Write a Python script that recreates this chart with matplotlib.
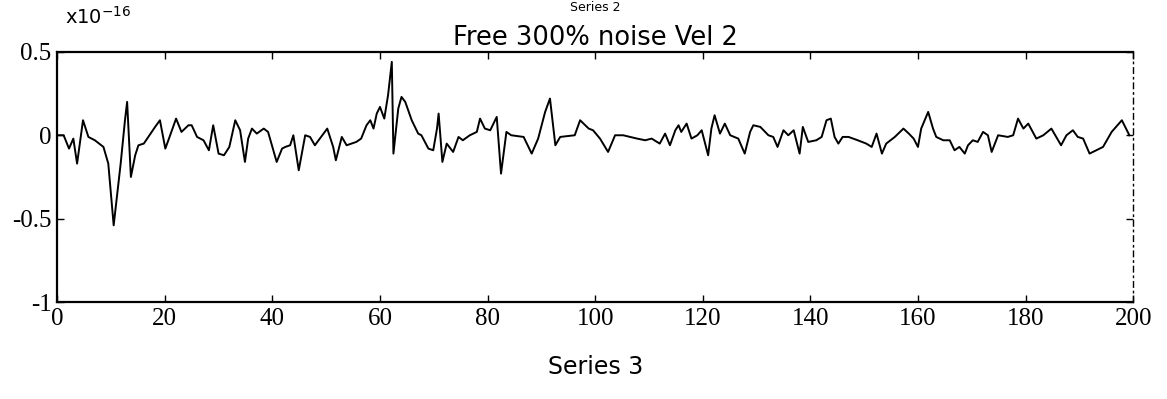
import matplotlib
matplotlib.use("Agg")
import matplotlib.pyplot as plt

# ── data (units of 1e-16) ────────────────────────────────────────────────────
x = [0.0, 1.2, 2.2, 3.0, 3.7, 4.8, 5.8, 7.0, 8.6, 9.5,
     10.5, 11.8, 12.6, 13.0, 13.7, 14.5, 15.1, 16.1, 18.2, 19.1,
     20.1, 21.0, 22.1, 23.1, 24.4, 25.0, 26.0, 27.2, 28.2, 29.0,
     30.0, 31.0, 32.0, 33.1, 34.0, 34.9, 35.5, 36.2, 37.1, 38.4,
     39.2, 40.8, 41.8, 42.4, 43.3, 43.9, 44.9, 46.1, 47.0, 47.9,
     50.2, 51.3, 51.8, 52.9, 53.8, 55.6, 56.5, 57.5, 58.2, 58.8,
     59.4, 60.0, 60.8, 61.5, 62.2, 62.5, 63.4, 64.0, 64.7, 65.9,
     67.1, 67.7, 69.0, 69.9, 70.6, 70.9, 71.6, 72.4, 73.6, 74.6,
     75.4, 76.7, 78.0, 78.6, 79.5, 80.5, 81.7, 82.5, 83.5, 84.4,
     86.7, 88.2, 89.4, 90.7, 91.6, 92.6, 93.5, 96.2, 97.2, 98.8,
     99.6, 100.9, 102.4, 103.7, 105.2, 106.5, 107.8, 109.3, 110.5, 112.0,
     113.0, 113.9, 114.9, 115.5, 116.0, 117.0, 117.9, 119.0, 119.8, 121.0,
     121.6, 122.2, 123.2, 124.1, 125.1, 126.6, 127.8, 128.8, 129.4, 130.7,
     132.2, 133.1, 133.9, 135.0, 135.9, 136.9, 138.0, 138.6, 139.6, 141.1,
     142.1, 143.0, 143.8, 144.5, 145.2, 146.0, 147.1, 148.8, 150.4, 151.4,
     152.3, 153.3, 154.1, 155.7, 157.3, 158.3, 159.2, 160.0, 160.6, 161.9,
     162.8, 163.4, 164.7, 165.9, 166.8, 167.7, 168.7, 169.3, 170.2, 171.1,
     172.1, 173.0, 173.7, 174.9, 176.7, 177.7, 178.6, 179.6, 180.5, 182.0,
     183.3, 184.8, 186.6, 187.6, 188.8, 189.7, 190.7, 191.9, 194.4, 196.0,
     197.9, 199.3]
vel = [0.0, 0.0, -0.08, -0.02, -0.17, 0.09, -0.01, -0.03, -0.07, -0.17,
       -0.54, -0.17, 0.09, 0.2, -0.25, -0.12, -0.06, -0.05, 0.05, 0.09,
       -0.08, 0.0, 0.1, 0.02, 0.06, 0.06, -0.01, -0.03, -0.09, 0.06,
       -0.11, -0.12, -0.07, 0.09, 0.03, -0.16, -0.02, 0.04, 0.01, 0.04,
       0.02, -0.16, -0.08, -0.07, -0.06, 0.0, -0.21, 0.0, -0.01, -0.06,
       0.04, -0.07, -0.15, -0.01, -0.06, -0.04, -0.02, 0.06, 0.09, 0.04,
       0.13, 0.17, 0.10, 0.24, 0.44, -0.11, 0.16, 0.23, 0.2, 0.09,
       0.01, 0.0, -0.08, -0.09, 0.04, 0.13, -0.16, -0.05, -0.1, -0.01,
       -0.03, 0.0, 0.02, 0.1, 0.04, 0.03, 0.11, -0.23, 0.02, 0.0,
       -0.01, -0.11, -0.02, 0.14, 0.22, -0.06, -0.01, 0.0, 0.09, 0.04,
       0.03, -0.02, -0.1, 0.0, 0.0, -0.01, -0.02, -0.03, -0.02, -0.05,
       0.01, -0.06, 0.03, 0.06, 0.02, 0.07, -0.02, 0.0, 0.03, -0.12,
       0.04, 0.12, 0.01, 0.07, 0.0, -0.02, -0.11, 0.02, 0.06, 0.05,
       0.0, -0.01, -0.07, 0.03, 0.0, 0.03, -0.11, 0.05, -0.04, -0.03,
       -0.01, 0.09, 0.1, -0.01, -0.05, -0.01, -0.01, -0.03, -0.05, -0.07,
       0.01, -0.11, -0.05, -0.01, 0.04, 0.01, -0.02, -0.07, 0.04, 0.14,
       0.04, -0.01, -0.03, -0.03, -0.09, -0.07, -0.11, -0.06, -0.03, -0.04,
       0.02, 0.0, -0.1, 0.0, -0.01, 0.0, 0.1, 0.04, 0.07, -0.02,
       0.0, 0.04, -0.06, 0.0, 0.03, -0.01, -0.02, -0.11, -0.07, 0.02,
       0.09, 0.0]

x_ticks = [0, 20, 40, 60, 80, 100, 120, 140, 160, 180, 200]
y_ticks = [-1, -0.5, 0, 0.5]
y_tick_labels = ["-1", "-0.5", "0", "0.5"]

TICK_FONT = "Liberation Serif"
TEXT_FONT = "DejaVu Sans"

fig = plt.figure(figsize=(11.67, 3.99), dpi=100)
ax = fig.add_axes([0.049, 0.243, 0.922, 0.627])

ax.plot(x, vel, color="black", linewidth=1.4)

ax.set_xlim(0, 200)
ax.set_ylim(-1, 0.5)
ax.set_xticks(x_ticks)
ax.set_xticklabels([str(t) for t in x_ticks], fontfamily=TICK_FONT, fontsize=18)
ax.set_yticks(y_ticks)
ax.set_yticklabels(y_tick_labels, fontfamily=TICK_FONT, fontsize=18)
ax.tick_params(direction="in", length=5, width=1, top=True, right=True, pad=4)

for side in ("top", "bottom", "left"):
    ax.spines[side].set_linewidth(1.6)
ax.spines["right"].set_linestyle((0, (4, 3, 1, 3)))
ax.spines["right"].set_linewidth(1.0)

ax.set_title("Free 300% noise Vel 2", fontfamily=TEXT_FONT, fontsize=18.5, pad=5)
ax.set_xlabel("Series 3", fontfamily=TEXT_FONT, fontsize=17, labelpad=18)

# exponent label over the y axis and the caption at the top edge
fig.text(0.056, 0.93, r"x10$^{-16}$", fontfamily=TEXT_FONT, fontsize=14, va="bottom")
fig.text(0.51, 0.998, "Series 2", fontfamily=TEXT_FONT, fontsize=9, ha="center", va="top")

fig.savefig("out.png", dpi=100)
